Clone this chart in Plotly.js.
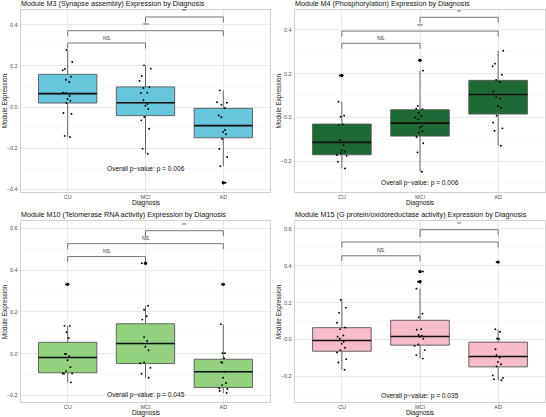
<!DOCTYPE html>
<html>
<head>
<meta charset="utf-8">
<script src="https://cdn.plot.ly/plotly-3.0.1.min.js"></script>
<style>html,body{margin:0;padding:0;background:#fff;}#chart{width:546px;height:417px;}</style>
</head>
<body>
<div id="chart"></div>
<script>
// ---------- data ----------
const categories = ['CU', 'MCI', 'AD'];
const pairs = [[0, 1], [0, 2], [1, 2]];

// M3
const m3_title = 'Module M3 (Synapse assembly) Expression by Diagnosis';
const m3_cu  = [0.278, 0.22, 0.185, 0.179, 0.148, 0.133, 0.122, 0.07, 0.068, 0.039, 0.054, 0.031, 0.02, -0.029, -0.034, -0.141, -0.146];
const m3_mci = [0.203, 0.187, 0.151, 0.127, 0.098, 0.093, 0.068, 0.07, 0.033, 0.015, 0.006, -0.01, -0.049, -0.065, -0.106, -0.203, -0.228];
const m3_ad  = [0.081, 0.021, 0.023, 0.011, -0.005, -0.041, -0.05, -0.122, -0.112, -0.133, -0.156, -0.205, -0.244, -0.289, -0.369];
const m3_q1 = [0.0195, -0.042, -0.15];
const m3_median = [0.065, 0.021, -0.091];
const m3_q3 = [0.159, 0.098, -0.0065];
const m3_lower = [-0.146, -0.228, -0.289];
const m3_upper = [0.278, 0.203, 0.081];
const m3_outliers = [[], [], [-0.369]];
const m3_sig_y = [0.312, 0.372, 0.439];
const m3_sig_labels = ['NS.', '***', '**'];
const m3_pvalue = 'Overall p\u2212value: p = 0.006';
const m3_pvalue_y = -0.302;

// M4
const m4_title = 'Module M4 (Phosphorylation) Expression by Diagnosis';
const m4_cu  = [0.192, 0.072, 0.008, 0.003, -0.034, -0.032, -0.104, -0.127, -0.15, -0.157, -0.163, -0.172, -0.176, -0.203, -0.234];
const m4_mci = [0.261, 0.214, 0.052, 0.04, 0.038, 0.021, -0.009, 0.005, 0.0, -0.04, -0.047, -0.063, -0.069, -0.09, -0.118, -0.16, -0.249];
const m4_ad  = [0.305, 0.246, 0.234, 0.195, 0.171, 0.162, 0.119, 0.093, 0.087, 0.052, 0.044, 0.008, -0.024, -0.05, -0.061, -0.13];
const m4_q1 = [-0.171, -0.0855, 0.0153];
const m4_median = [-0.1145, -0.026, 0.105];
const m4_q3 = [-0.0305, 0.035, 0.1695];
const m4_lower = [-0.234, -0.249, -0.13];
const m4_upper = [0.072, 0.214, 0.305];
const m4_outliers = [[0.192], [0.261], []];
const m4_sig_y = [0.339, 0.395, 0.458];
const m4_sig_labels = ['NS.', '***', '**'];
const m4_pvalue = 'Overall p\u2212value: p = 0.006';
const m4_pvalue_y = -0.30;

// M10
const m10_title = 'Module M10 (Telomerase RNA activity) Expression by Diagnosis';
const m10_cu  = [0.332, 0.133, 0.133, 0.102, 0.075, -0.002, -0.002, -0.012, -0.032, -0.065, -0.084, -0.095, -0.097, -0.095, -0.138];
const m10_mci = [0.433, 0.229, 0.21, 0.179, 0.163, 0.079, 0.06, 0.033, 0.016, -0.043, -0.046, -0.068, -0.097, -0.116];
const m10_ad  = [0.332, 0.141, 0.002, 0.002, -0.022, -0.041, -0.044, -0.087, -0.116, -0.141, -0.151, -0.167, -0.17, -0.179, -0.189];
const m10_q1 = [-0.092, -0.048, -0.162];
const m10_median = [-0.019, 0.048, -0.087];
const m10_q3 = [0.054, 0.143, -0.027];
const m10_lower = [-0.138, -0.116, -0.189];
const m10_upper = [0.133, 0.229, 0.141];
const m10_outliers = [[0.332], [0.433], [0.332]];
const m10_sig_y = [0.465, 0.527, 0.589];
const m10_sig_labels = ['NS.', 'NS.', '**'];
const m10_pvalue = 'Overall p\u2212value: p = 0.045';
const m10_pvalue_y = -0.20;

// M15
const m15_title = 'Module M15 (G protein/oxidoreductase activity) Expression by Diagnosis';
const m15_cu  = [0.216, 0.173, 0.145, 0.091, 0.065, 0.056, 0.022, 0.015, 0.004, -0.013, -0.024, -0.045, -0.058, -0.071, -0.107, -0.125, -0.165];
const m15_mci = [0.369, 0.313, 0.276, 0.14, 0.12, 0.056, 0.053, 0.024, 0.02, 0.015, 0.004, -0.027, -0.035, -0.058, -0.085, -0.104];
const m15_ad  = [0.42, 0.055, 0.042, 0.005, 0.002, -0.053, -0.098, -0.085, -0.122, -0.135, -0.147, -0.195, -0.209, -0.216, -0.222];
const m15_q1 = [-0.064, -0.031, -0.149];
const m15_median = [-0.0055, 0.016, -0.093];
const m15_q3 = [0.064, 0.104, -0.0145];
const m15_lower = [-0.165, -0.104, -0.222];
const m15_upper = [0.216, 0.276, 0.055];
const m15_outliers = [[], [0.369, 0.313], [0.42]];
const m15_sig_y = [0.4545, 0.529, 0.596];
const m15_sig_labels = ['NS.', '*', '**'];
const m15_pvalue = 'Overall p\u2212value: p = 0.035';
const m15_pvalue_y = -0.309;

// ---------- styling / layout ----------
const FONT = '"Liberation Sans", Arial, Helvetica, sans-serif';
const W = 546, H = 417;
const colPx = [[21, 270], [295, 545]];
const rowPx = [[10, 191.7], [220.7, 402.4]];
const colDomains = colPx.map(c => [c[0] / W, c[1] / W]);
const rowDomains = rowPx.map(r => [1 - r[1] / H, 1 - r[0] / H]);
const XR = [-0.6, 2.6];

const panels = [
  {title: m3_title, groups: [m3_cu, m3_mci, m3_ad], q1: m3_q1, med: m3_median, q3: m3_q3, lo: m3_lower, hi: m3_upper,
   out: m3_outliers, sigY: m3_sig_y, sigL: m3_sig_labels, pv: m3_pvalue, pvY: m3_pvalue_y,
   fill: '#68C6DA', range: [-0.413, 0.473], col: 0, row: 0},
  {title: m4_title, groups: [m4_cu, m4_mci, m4_ad], q1: m4_q1, med: m4_median, q3: m4_q3, lo: m4_lower, hi: m4_upper,
   out: m4_outliers, sigY: m4_sig_y, sigL: m4_sig_labels, pv: m4_pvalue, pvY: m4_pvalue_y,
   fill: '#1D6A35', range: [-0.340, 0.4915], col: 1, row: 0},
  {title: m10_title, groups: [m10_cu, m10_mci, m10_ad], q1: m10_q1, med: m10_median, q3: m10_q3, lo: m10_lower, hi: m10_upper,
   out: m10_outliers, sigY: m10_sig_y, sigL: m10_sig_labels, pv: m10_pvalue, pvY: m10_pvalue_y,
   fill: '#93D17F', range: [-0.234, 0.637], col: 0, row: 1},
  {title: m15_title, groups: [m15_cu, m15_mci, m15_ad], q1: m15_q1, med: m15_median, q3: m15_q3, lo: m15_lower, hi: m15_upper,
   out: m15_outliers, sigY: m15_sig_y, sigL: m15_sig_labels, pv: m15_pvalue, pvY: m15_pvalue_y,
   fill: '#F7BCCA', range: [-0.342, 0.645], col: 1, row: 1}
];

const traces = [];
const shapes = [];
const annotations = [];
const layout = {
  width: W, height: H,
  margin: {l: 0, r: 0, t: 0, b: 0, autoexpand: false},
  paper_bgcolor: '#ffffff', plot_bgcolor: '#ffffff',
  showlegend: false, boxmode: 'overlay',
  font: {family: FONT, color: '#000'}
};
const BOXW = 0.75;

panels.forEach((p, i) => {
  const n = i === 0 ? '' : String(i + 1);
  const xa = 'x' + n, ya = 'y' + n;
  const span = p.range[1] - p.range[0];

  layout['xaxis' + n] = {
    domain: colDomains[p.col], anchor: ya, range: XR,
    tickvals: [0, 1, 2], ticktext: categories,
    showgrid: true, gridcolor: '#E3E3E3', gridwidth: 0.8,
    zeroline: false, showline: true, mirror: true, linecolor: '#C4C4C4', linewidth: 0.8,
    ticks: 'outside', ticklen: 1.5, tickcolor: '#C4C4C4', tickwidth: 0.6,
    ticklabelstandoff: -2,
    tickfont: {size: 5.5, color: '#4D4D4D', family: FONT}, fixedrange: true
  };
  layout['yaxis' + n] = {
    domain: rowDomains[p.row], anchor: xa, range: p.range,
    dtick: 0.2, tickformat: '.1f',
    showgrid: true, gridcolor: '#E3E3E3', gridwidth: 0.8,
    minor: {showgrid: true, dtick: 0.1, gridcolor: '#F1F1F1', gridwidth: 0.5},
    zeroline: false, showline: true, mirror: true, linecolor: '#C4C4C4', linewidth: 0.8,
    ticks: 'outside', ticklen: 1.5, tickcolor: '#C4C4C4', tickwidth: 0.6,
    tickfont: {size: 5.5, color: '#4D4D4D', family: FONT}, fixedrange: true
  };

  // boxes from summary statistics
  traces.push({
    type: 'box', xaxis: xa, yaxis: ya, x: [0, 1, 2],
    q1: p.q1, median: p.med, q3: p.q3, lowerfence: p.lo, upperfence: p.hi,
    boxpoints: false, width: BOXW, whiskerwidth: 0,
    fillcolor: p.fill, line: {color: '#575757', width: 0.9}, hoverinfo: 'skip'
  });
  // thick median lines
  const mx = [], my = [];
  p.med.forEach((m, k) => { mx.push(k - BOXW / 2, k + BOXW / 2, null); my.push(m, m, null); });
  traces.push({type: 'scatter', mode: 'lines', xaxis: xa, yaxis: ya, x: mx, y: my,
    line: {color: '#111111', width: 1.6}, hoverinfo: 'skip'});
  // outliers at category centre
  const ox = [], oy = [];
  p.out.forEach((arr, k) => arr.forEach(v => { ox.push(k); oy.push(v); }));
  traces.push({type: 'scatter', mode: 'markers', xaxis: xa, yaxis: ya, x: ox, y: oy,
    marker: {color: '#000', size: 3.4}, hoverinfo: 'skip'});
  // jittered raw points
  p.groups.forEach((vals, k) => {
    traces.push({
      type: 'box', xaxis: xa, yaxis: ya, y: vals, x0: k, width: BOXW,
      boxpoints: 'all', jitter: 0.22, pointpos: 0,
      fillcolor: 'rgba(0,0,0,0)', line: {color: 'rgba(0,0,0,0)', width: 0},
      marker: {color: '#000', size: 1.9}, hoverinfo: 'skip'
    });
  });

  // significance brackets
  const tip = 0.03 * span;
  pairs.forEach((pr, k) => {
    const y = p.sigY[k];
    const line = {color: '#666666', width: 0.9};
    shapes.push({type: 'line', xref: xa, yref: ya, x0: pr[0], x1: pr[1], y0: y, y1: y, line});
    shapes.push({type: 'line', xref: xa, yref: ya, x0: pr[0], x1: pr[0], y0: y, y1: y - tip, line});
    shapes.push({type: 'line', xref: xa, yref: ya, x0: pr[1], x1: pr[1], y0: y, y1: y - tip, line});
    annotations.push({xref: xa, yref: ya, x: (pr[0] + pr[1]) / 2, y: y, text: p.sigL[k],
      showarrow: false, xanchor: 'center', yanchor: 'bottom', yshift: 0.5, font: {size: 5, color: '#333', family: FONT}});
  });

  // overall p-value
  annotations.push({xref: xa, yref: ya, x: 1, y: p.pvY, text: p.pv, showarrow: false, xanchor: 'center',
    font: {size: 6.6, color: '#111', family: FONT}});

  // panel title: start-anchored text on a hidden helper axis pair spanning a strip above the panel
  const rpx = rowPx[p.row];
  const hn = String(i + 5);
  layout['xaxis' + hn] = {domain: colDomains[p.col], anchor: 'y' + hn, range: [0, 1], visible: false, fixedrange: true};
  layout['yaxis' + hn] = {domain: [1 - (rpx[0] - 2) / H, 1 - (rpx[0] - 9) / H], anchor: 'x' + hn,
    range: [0, 1], visible: false, fixedrange: true};
  traces.push({
    type: 'scatter', mode: 'text', xaxis: 'x' + hn, yaxis: 'y' + hn, cliponaxis: false,
    x: [0], y: [0.5], text: [p.title], textposition: 'middle right',
    textfont: {size: 7.2, color: '#111', family: FONT}, hoverinfo: 'skip'
  });

  // axis titles
  const dx = colDomains[p.col], dy = rowDomains[p.row];
  annotations.push({xref: 'paper', yref: 'paper', x: (dx[0] + dx[1]) / 2, y: dy[0] - 11 / H, text: 'Diagnosis',
    showarrow: false, xanchor: 'center', yanchor: 'middle', font: {size: 6.4, color: '#111', family: FONT}});
  annotations.push({xref: 'paper', yref: 'paper', x: dx[0] - 16.5 / W, y: (dy[0] + dy[1]) / 2, text: 'Module Expression',
    showarrow: false, textangle: -90, xanchor: 'center', yanchor: 'middle', font: {size: 6.4, color: '#111', family: FONT}});
});

layout.shapes = shapes;
layout.annotations = annotations;

Plotly.newPlot('chart', traces, layout, {staticPlot: true, displayModeBar: false});
</script>
</body>
</html>
